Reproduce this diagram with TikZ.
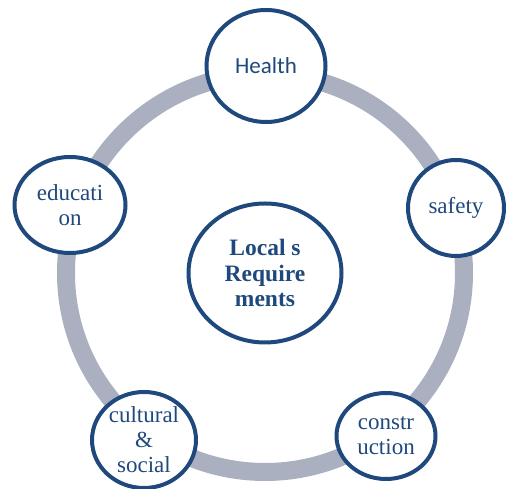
\documentclass[tikz,border=0pt]{standalone}
\usepackage{fontspec}
\setmainfont{Liberation Serif}
\newfontfamily\calibri{Carlito}
\usetikzlibrary{shapes.geometric}
\definecolor{ringgray}{RGB}{170,176,192}
\definecolor{darkblue}{RGB}{31,73,125}

\begin{document}
\begin{tikzpicture}[x=1pt,y=1pt,
   topic/.style={ellipse,draw=darkblue,line width=4pt,fill=white,
      text=darkblue,align=center,inner sep=0pt,
      font=\fontsize{23}{25}\selectfont},
   ring/.style={draw=ringgray,line width=18pt}]
\useasboundingbox (0,0) rectangle (506,489);
\coordinate (hub) at (265,216);
\draw[ring] (hub) circle (199);
\node[topic,minimum width=153,minimum height=139,
   font=\fontsize{23.5}{25.5}\selectfont\bfseries] (local) at (hub)
   {Local s\\Require\\ments};
\node[topic,minimum width=119,minimum height=112,
   font=\fontsize{23}{25}\calibri] (health) at (266,423) {Health};
\node[topic,minimum width=96,minimum height=96] (safety) at (456,281) {safety};
\node[topic,minimum width=111,minimum height=96] (education) at (70,284)
   {educati\\on};
\node[topic,minimum width=104,minimum height=96] (cultural) at (144,49)
   {cultural\\\&\\social};
\node[topic,minimum width=99,minimum height=86] (construction) at (386,53)
   {constr\\uction};
\end{tikzpicture}
\end{document}
